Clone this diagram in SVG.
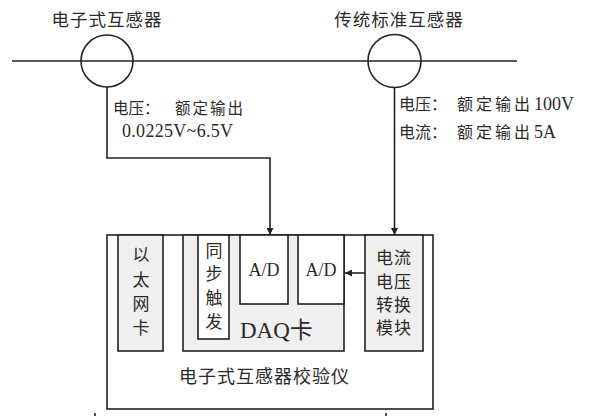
<svg xmlns="http://www.w3.org/2000/svg" width="593" height="416" viewBox="0 0 593 416">
<style>
text{font-family:"Liberation Serif","Noto Sans CJK SC",serif;fill:#2a2a2a;dominant-baseline:central}
.ln{stroke:#222;stroke-width:1.6;fill:none}
.box{stroke:#222;stroke-width:1.6}
.g{fill:#efefef}
.w{fill:#fff}
.c{text-anchor:middle}
</style>
<defs>
<marker id="ah" viewBox="0 0 10 10" refX="10" refY="5" markerWidth="7" markerHeight="7" markerUnits="userSpaceOnUse" orient="auto">
<path d="M0,0 L10,5 L0,10 Z" fill="#222"/>
</marker>
</defs>
<g id="line">
<line class="ln" x1="12" y1="61" x2="517" y2="61"/>
</g>
<g id="ect">
<circle class="ln" cx="107" cy="61" r="26"/>
<text class="c" x="107" y="20" font-size="17.5" letter-spacing="1">电子式互感器</text>
</g>
<g id="std">
<circle class="ln" cx="394.5" cy="61" r="26.5"/>
<text class="c" x="399" y="20" font-size="17.5" letter-spacing="1">传统标准互感器</text>
</g>
<g id="labels">
<text x="113" y="108" font-size="15.5" xml:space="preserve">电压：<tspan x="175" letter-spacing="2">额定输出</tspan></text>
<text x="122" y="131" font-size="18" letter-spacing="0.3">0.0225V~6.5V</text>
<text x="399" y="104" font-size="16" xml:space="preserve">电压：<tspan x="457" letter-spacing="3">额定输</tspan><tspan>出</tspan><tspan x="534" font-size="18">100V</tspan></text>
<text x="399" y="132" font-size="16" xml:space="preserve">电流：<tspan x="457" letter-spacing="3">额定输</tspan><tspan>出</tspan><tspan x="534" font-size="18">5A</tspan></text>
</g>
<g id="tester">
<rect class="box w" x="107" y="235" width="326" height="174"/>
<text class="c" x="264.5" y="377" font-size="18" letter-spacing="1">电子式互感器校验仪</text>
</g>
<g id="eth">
<rect class="box g" x="118" y="235" width="45" height="116"/>
<text class="c" x="141" y="255" font-size="17">以</text>
<text class="c" x="141" y="280" font-size="17">太</text>
<text class="c" x="141" y="304" font-size="17">网</text>
<text class="c" x="141" y="328" font-size="17">卡</text>
</g>
<g id="daq">
<rect class="box g" x="183" y="235" width="161" height="116"/>
<text x="240" y="330" font-size="23">DAQ卡</text>
</g>
<g id="sync">
<rect class="box w" x="198" y="235" width="31" height="104"/>
<text class="c" x="214" y="251" font-size="17">同</text>
<text class="c" x="214" y="274" font-size="17">步</text>
<text class="c" x="214" y="298" font-size="17">触</text>
<text class="c" x="214" y="322" font-size="17">发</text>
</g>
<g id="ad1">
<rect class="box w" x="240" y="235" width="48" height="69"/>
<text class="c" x="264" y="270" font-size="18">A/D</text>
</g>
<g id="ad2">
<rect class="box w" x="298" y="235" width="46" height="69"/>
<text class="c" x="321" y="270" font-size="18">A/D</text>
</g>
<g id="conv">
<rect class="box g" x="365" y="235" width="58" height="116"/>
<text class="c" x="394" y="258" font-size="17" letter-spacing="1">电流</text>
<text class="c" x="394" y="282" font-size="17" letter-spacing="1">电压</text>
<text class="c" x="394" y="305" font-size="17" letter-spacing="1">转换</text>
<text class="c" x="394" y="328" font-size="17" letter-spacing="1">模块</text>
</g>
<g id="connectors">
<path class="ln" d="M107,87 V158 H270 V235" marker-end="url(#ah)"/>
<path class="ln" d="M394.5,87.5 V235" marker-end="url(#ah)"/>
<path class="ln" d="M365,273 H345" marker-end="url(#ah)"/>
<line class="ln" x1="95" y1="413" x2="95" y2="416"/>
<line class="ln" x1="386" y1="413" x2="386" y2="416"/>
</g>
</svg>
